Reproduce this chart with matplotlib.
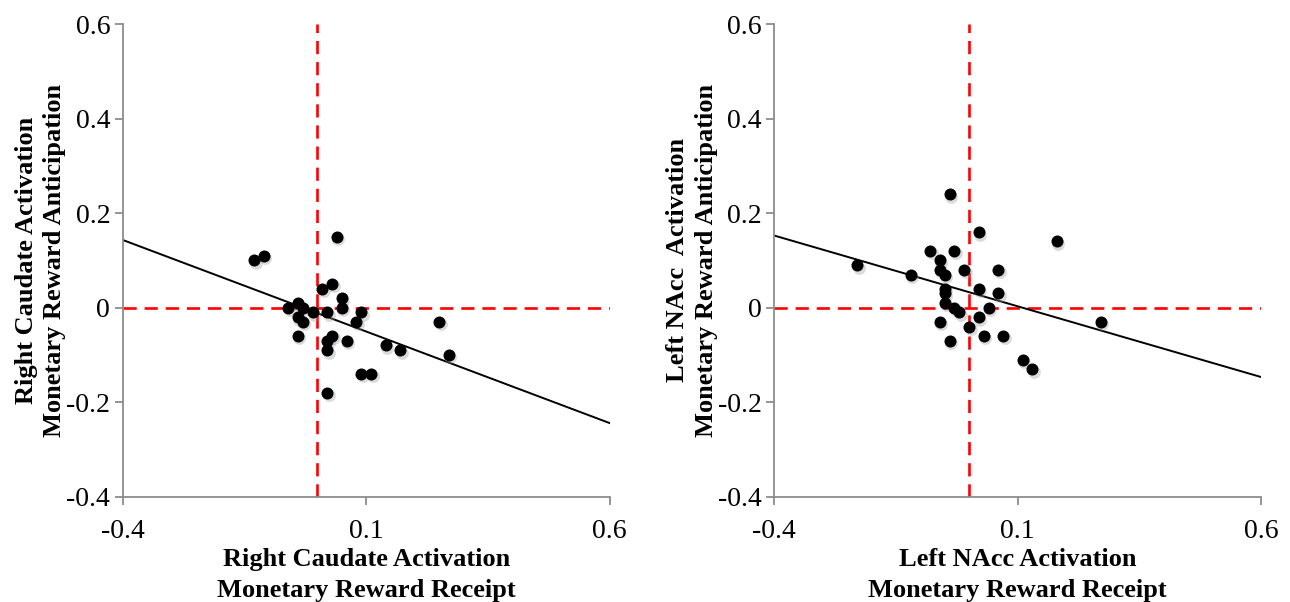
import matplotlib
matplotlib.use('Agg')
import matplotlib.pyplot as plt
import matplotlib.transforms as mtransforms
import numpy as np

# Right caudate panel
rc_receipt = [0.04, -0.13, -0.11, 0.01, 0.03, 0.05, 0.05, 0.09, 0.08, -0.06,
              -0.04, -0.03, -0.04, -0.03, -0.01, 0.02, -0.04, 0.03, 0.02, 0.02,
              0.06, 0.14, 0.17, 0.25, 0.27, 0.09, 0.11, 0.02]
rc_anticipation = [0.15, 0.10, 0.11, 0.04, 0.05, 0.02, 0.00, -0.01, -0.03, 0.00,
                   0.01, 0.00, -0.02, -0.03, -0.01, -0.01, -0.06, -0.06, -0.07, -0.09,
                   -0.07, -0.08, -0.09, -0.03, -0.10, -0.14, -0.14, -0.18]

# Left NAcc panel
ln_receipt = [-0.04, 0.02, 0.18, -0.08, -0.03, -0.06, -0.06, -0.05, -0.01, 0.06,
              -0.23, -0.12, -0.05, -0.05, 0.02, 0.06, -0.05, -0.03, -0.02, 0.04,
              0.02, -0.06, 0.00, -0.04, 0.03, 0.07, 0.11, 0.13, 0.27]
ln_anticipation = [0.24, 0.16, 0.14, 0.12, 0.12, 0.10, 0.08, 0.07, 0.08, 0.08,
                   0.09, 0.07, 0.04, 0.03, 0.04, 0.03, 0.01, 0.00, -0.01, 0.00,
                   -0.02, -0.03, -0.04, -0.07, -0.06, -0.06, -0.11, -0.13, -0.03]

x_ticks = [-0.4, 0.1, 0.6]
x_tick_labels = ['-0.4', '0.1', '0.6']
y_ticks = [-0.4, -0.2, 0.0, 0.2, 0.4, 0.6]
y_tick_labels = ['-0.4', '-0.2', '0', '0.2', '0.4', '0.6']

panels = [
    (rc_receipt, rc_anticipation,
     'Right Caudate Activation\nMonetary Reward Receipt',
     'Right Caudate Activation\nMonetary Reward Anticipation'),
    (ln_receipt, ln_anticipation,
     'Left NAcc Activation\nMonetary Reward Receipt',
     'Left NAcc  Activation\nMonetary Reward Anticipation'),
]

plt.rcParams['font.family'] = ['Liberation Serif', 'DejaVu Serif']

AXIS_GREY = '#8c8c8c'


def draw_panel(fig, ax, xs, ys, xlabel, ylabel):
    ax.set_xlim(-0.4, 0.6)
    ax.set_ylim(-0.4, 0.6)

    # reference lines at zero
    ax.axhline(0, color='#ff0000', lw=1.9, ls=(0, (5, 3)), zorder=1)
    ax.axvline(0, color='#ff0000', lw=1.9, ls=(0, (5, 3)), zorder=1)

    # linear trend line
    slope, intercept = np.polyfit(xs, ys, 1)
    line_x = np.array([-0.4, 0.6])
    ax.plot(line_x, slope * line_x + intercept, color='black', lw=1.4, zorder=2)

    # soft shadow, then points
    shadow = mtransforms.offset_copy(ax.transData, fig=fig, x=1.5, y=-2.5,
                                     units='dots')
    ax.scatter(xs, ys, s=85, color='#999999', alpha=0.35, lw=0,
               transform=shadow, zorder=3)
    ax.scatter(xs, ys, s=75, color='black', lw=0, zorder=4)

    for side in ['top', 'right']:
        ax.spines[side].set_visible(False)
    for side in ['left', 'bottom']:
        ax.spines[side].set_color(AXIS_GREY)
        ax.spines[side].set_linewidth(1.3)

    ax.set_xticks(x_ticks)
    ax.set_xticklabels(x_tick_labels)
    ax.set_yticks(y_ticks)
    ax.set_yticklabels(y_tick_labels)
    ax.tick_params(direction='out', length=6, width=1.3, color=AXIS_GREY,
                   labelsize=20)
    ax.tick_params(axis='x', pad=10)
    ax.tick_params(axis='y', pad=3)

    ax.set_xlabel(xlabel, fontsize=19, fontweight='bold', linespacing=1.45)
    ax.set_ylabel(ylabel, fontsize=19, fontweight='bold', linespacing=1.3)
    ax.xaxis.set_label_coords(0.5, -0.108)
    ax.yaxis.set_label_coords(-0.116, 0.5)


def main():
    fig = plt.figure(figsize=(12.9, 6.02), dpi=100)
    lefts = [0.0951, 0.6002]
    for left, (xs, ys, xlabel, ylabel) in zip(lefts, panels):
        ax = fig.add_axes([left, 0.1749, 0.3775, 0.7852])
        draw_panel(fig, ax, xs, ys, xlabel, ylabel)
    fig.savefig('out.png', dpi=100)
    plt.close(fig)


if __name__ == '__main__':
    main()
